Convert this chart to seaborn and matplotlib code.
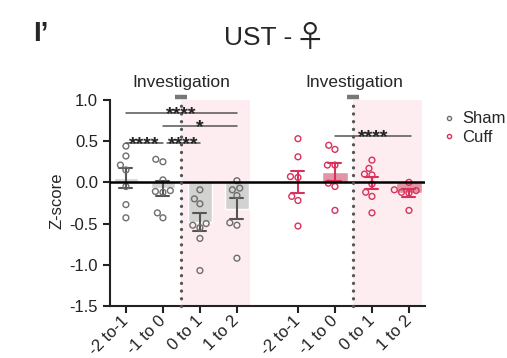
import pandas as pd
import matplotlib
matplotlib.use('Agg')
import matplotlib.pyplot as plt
from matplotlib.lines import Line2D
import seaborn as sns

# Time windows around investigation onset (s)
windows = ['-2 to-1', '-1 to 0', '0 to 1', '1 to 2']
sham_pos = [0, 1, 2, 3]
cuff_pos = [4.65, 5.65, 6.65, 7.65]

# Z-scores, one list per window
sham_m2 = [0.44, 0.32, 0.21, 0.15, -0.05, -0.27, -0.43]
sham_m1 = [0.25, 0.28, 0.03, -0.10, -0.11, -0.12, -0.37, -0.43]
sham_p0 = [-0.09, -0.20, -0.26, -0.50, -0.52, -0.55, -0.68, -1.07]
sham_p1 = [0.02, -0.07, -0.09, -0.16, -0.49, -0.52, -0.92]

cuff_m2 = [0.53, 0.31, 0.07, 0.06, -0.17, -0.22, -0.53]
cuff_m1 = [0.45, 0.40, 0.21, 0.21, -0.01, -0.05, -0.34]
cuff_p0 = [0.27, 0.17, 0.09, 0.10, -0.02, -0.12, -0.17, -0.37]
cuff_p1 = [0.00, -0.09, -0.10, -0.12, -0.13, -0.34]

# significance brackets: (x start, x end, y, label)
sham_sig = [(0, 3, 0.84, '****'), (1, 3, 0.68, '*'), (0, 1, 0.48, '****'), (1.1, 2, 0.48, '****')]
cuff_sig = [(5.65, 7.7, 0.56, '****')]


def long_df(groups, positions, name):
    rows = []
    for vals, p, w in zip(groups, positions, windows):
        for v in vals:
            rows.append({'pos': p, 'window': w, 'z': v, 'group': name})
    return pd.DataFrame(rows)


sham = long_df([sham_m2, sham_m1, sham_p0, sham_p1], sham_pos, 'Sham')
cuff = long_df([cuff_m2, cuff_m1, cuff_p0, cuff_p1], cuff_pos, 'Cuff')

sham_c = '#6e6e6e'
sham_bar = '#d2d4d0'
cuff_c = '#d8315b'
cuff_bar = '#ec8a9c'
shade = '#fdedf0'

sns.set_style('ticks')
plt.rcParams['font.family'] = ['Liberation Sans', 'DejaVu Sans']
plt.rcParams['axes.unicode_minus'] = False

fig = plt.figure(figsize=(5.07, 3.58), dpi=100)
ax = fig.add_axes([0.217, 0.1453, 0.621, 0.587])

# pink shading after onset
ax.axvspan(1.5, 3.35, ymin=0, ymax=2.5 / 2.55, color=shade, lw=0, zorder=0)
ax.axvspan(6.15, 8.0, ymin=0, ymax=2.5 / 2.55, color=shade, lw=0, zorder=0)

# bars with SEM
sns.barplot(data=sham, x='pos', y='z', native_scale=True, width=0.63, color=sham_bar,
            errorbar='se', capsize=0.35, err_kws={'color': '#555555', 'linewidth': 1.5},
            ax=ax, zorder=2)
sns.barplot(data=cuff, x='pos', y='z', native_scale=True, width=0.68, color=cuff_bar,
            errorbar='se', capsize=0.35, err_kws={'color': cuff_c, 'linewidth': 1.5},
            ax=ax, zorder=2)

# individual animals, hollow circles
n0 = len(ax.collections)
sns.swarmplot(data=sham, x='pos', y='z', native_scale=True, size=4.2, color=sham_c, ax=ax, zorder=3)
n1 = len(ax.collections)
sns.swarmplot(data=cuff, x='pos', y='z', native_scale=True, size=4.2, color=cuff_c, ax=ax, zorder=3)
for i, coll in enumerate(ax.collections[n0:]):
    c = sham_c if i < n1 - n0 else cuff_c
    coll.set_facecolor('none')
    coll.set_edgecolor(c)
    coll.set_linewidth(1.0)

ax.axhline(0, color='black', lw=1.8, zorder=4)

# onset markers
for xo in [1.5, 6.15]:
    ax.plot([xo, xo], [-1.5, 0.98], color='#555555', lw=2.4,
            linestyle=(0, (0.01, 2.3)), dash_capstyle='round', zorder=5, clip_on=False)
    ax.plot([xo], [1.035], marker='_', ms=9, mew=3.2, color='#777777', zorder=5, clip_on=False)

# significance
for x0, x1, y, lab in sham_sig + cuff_sig:
    ax.plot([x0, x1], [y, y], color='#555555', lw=1.1, zorder=5)
    ax.text((x0 + x1) / 2, y - 0.075, lab, ha='center', va='baseline',
            fontsize=14, fontweight='bold', color='#222222', zorder=6)

ax.set_xlim(-0.43, 8.08)
ax.set_ylim(-1.5, 1.05)
ax.set_yticks([-1.5, -1.0, -0.5, 0.0, 0.5, 1.0])
ax.set_yticklabels(['-1.5', '-1.0', '-0.5', '0.0', '0.5', '1.0'], fontsize=12)
ax.set_xticks(sham_pos + cuff_pos)
ax.set_xticklabels(windows + windows, rotation=45, ha='right', va='center',
                   rotation_mode='anchor', fontsize=12)
ax.set_xlabel('')
ax.set_ylabel('Z-score', fontsize=12, labelpad=4)
ax.tick_params(axis='both', length=5, width=1.5, colors='#222222')
ax.tick_params(axis='x', pad=4)

sns.despine(ax=ax)
ax.spines['left'].set_bounds(-1.5, 1.0)
for s in ['left', 'bottom']:
    ax.spines[s].set_linewidth(1.5)
    ax.spines[s].set_color('#222222')

# headings
ax.text(1.5, 1.21, 'Investigation', ha='center', va='center', fontsize=12.5, clip_on=False)
ax.text(6.17, 1.21, 'Investigation', ha='center', va='center', fontsize=12.5, clip_on=False)
fig.text(292 / 507, 0.895, 'UST -', ha='right', va='center', fontsize=19)
fig.text(294 / 507, 0.893, '♀', ha='left', va='center', fontsize=22,
         family=['Noto Sans CJK JP', 'DejaVu Sans'])
fig.text(0.065, 0.905, 'I’', ha='left', va='center', fontsize=20, fontweight='bold')

handles = [Line2D([], [], ls='', marker='o', ms=3, mfc='none', mec=sham_c, mew=1),
           Line2D([], [], ls='', marker='o', ms=3, mfc='none', mec=cuff_c, mew=1)]
fig.legend(handles, ['Sham', 'Cuff'], loc='center left', bbox_to_anchor=(0.875, 1 - 128 / 358),
           frameon=False, fontsize=12, handlelength=0.6, handletextpad=0.5,
           labelspacing=0.2, borderpad=0, borderaxespad=0)

fig.savefig('out.png', dpi=100)
